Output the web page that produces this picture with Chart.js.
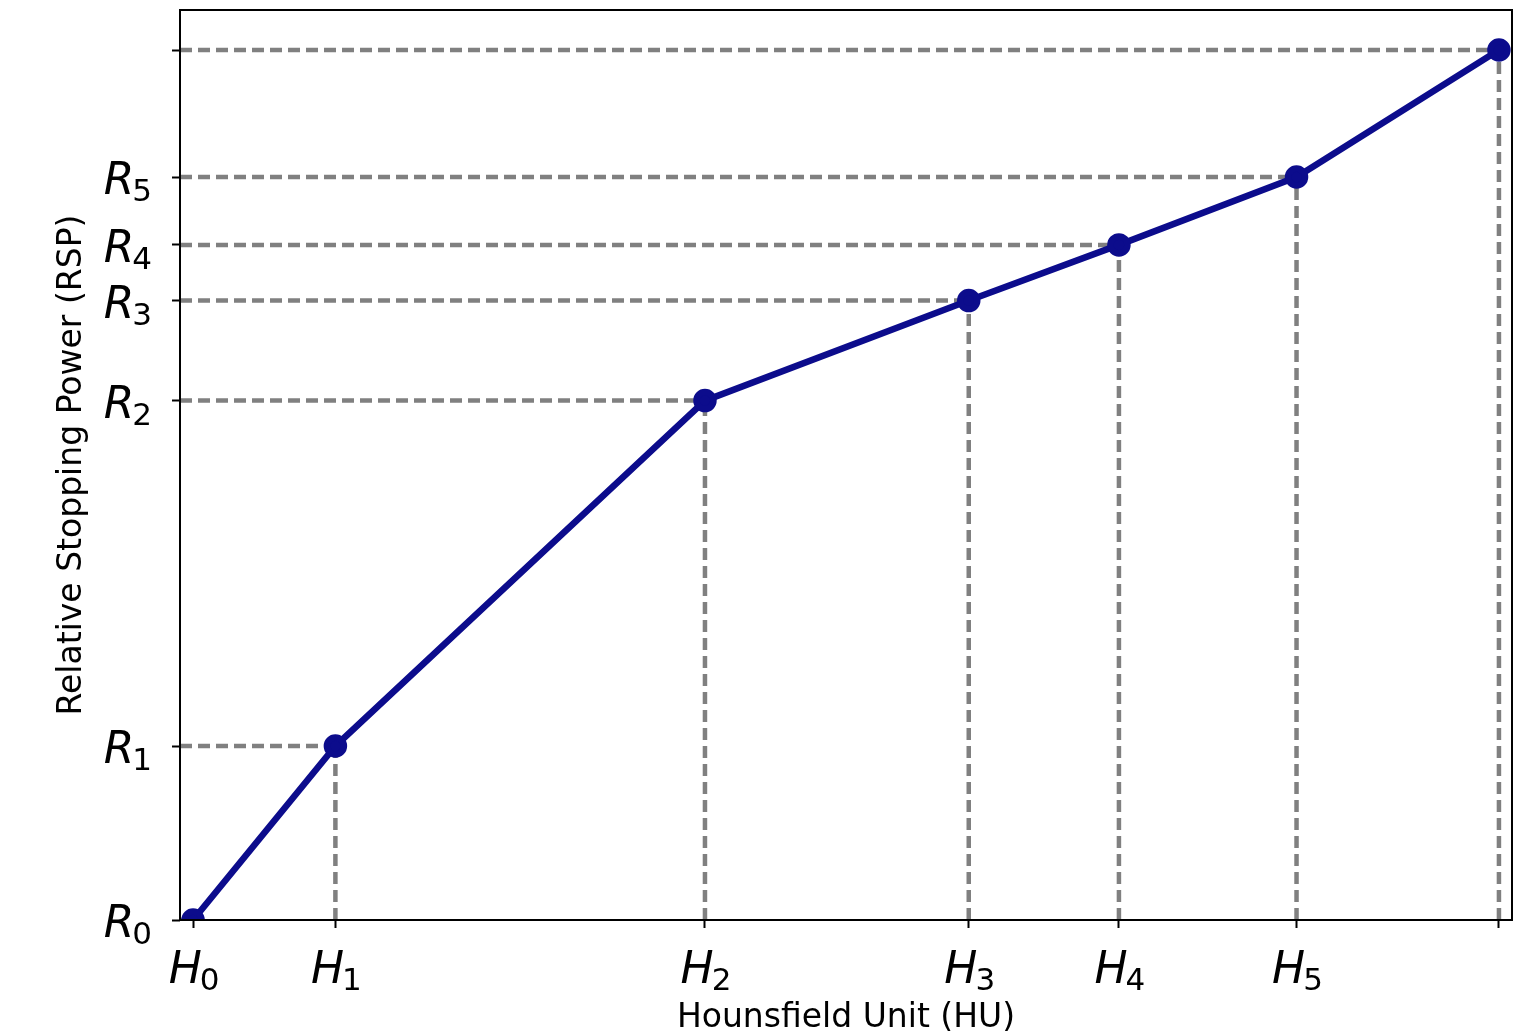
<!DOCTYPE html>
<html>
<head>
<meta charset="utf-8">
<script src="https://cdn.jsdelivr.net/npm/chart.js@4/dist/chart.umd.min.js"></script>
<style>
    html, body { margin: 0; padding: 0; background: #fff; }
    #wrap { width: 1536px; height: 1034px; }
</style>
</head>
<body>
<div id="wrap"><canvas id="myChart"></canvas></div>
<script>
// calibration nodes (HU -> RSP), arbitrary units
var hu = [0, 1.09, 3.92, 5.94, 7.09, 8.45, 10.0];
var rsp = [0, 2.0, 5.97, 7.12, 7.76, 8.54, 10.0];
var huLabels = ['0', '1', '2', '3', '4', '5', ''];
var rspLabels = ['0', '1', '2', '3', '4', '5', ''];
var xRange = [-0.1, 10.1];
var yRange = [0, 10.46];

var curve = [];
for (let i = 0; i < hu.length; i++) {
    curve.push({x: hu[i], y: rsp[i]});
}

var datasets = [{
    label: 'RSP curve',
    data: curve,
    showLine: true,
    borderColor: '#0c0c8c',
    backgroundColor: '#0c0c8c',
    borderWidth: 6.5,
    pointRadius: 8.5,
    pointHoverRadius: 8.5,
    clip: 0
}];

// dashed guides from each node to the axes
for (let i = 0; i < hu.length; i++) {
    datasets.push({
        label: 'h' + i,
        data: [{x: xRange[0], y: rsp[i]}, {x: hu[i], y: rsp[i]}],
        showLine: true,
        borderColor: '#808080',
        borderWidth: 4.5,
        borderDash: [12, 6],
        pointRadius: 0,
        clip: 0
    });
    datasets.push({
        label: 'v' + i,
        data: [{x: hu[i], y: yRange[0]}, {x: hu[i], y: rsp[i]}],
        showLine: true,
        borderColor: '#808080',
        borderWidth: 4.5,
        borderDash: [12, 6],
        pointRadius: 0,
        clip: 0
    });
}

function drawSub(ctx, letter, sub, x, y, align) {
    var big = "italic 44px 'DejaVu Sans'";
    var small = "31px 'DejaVu Sans'";
    ctx.font = big;
    var w1 = ctx.measureText(letter).width - 2;
    ctx.font = small;
    var w2 = sub ? ctx.measureText(sub).width : 0;
    var start = align == 'right' ? x - w1 - w2 : x - (w1 + w2) / 2;
    ctx.textAlign = 'left';
    ctx.textBaseline = 'alphabetic';
    ctx.fillStyle = '#000';
    ctx.font = big;
    ctx.fillText(letter, start, y);
    if (sub) {
        ctx.font = small;
        ctx.fillText(sub, start + w1, y + 7);
    }
}

const labelPlugin = {
    id: 'labelPlugin',
    afterDraw(chart) {
        var ctx = chart.ctx;
        var area = chart.chartArea;
        var xs = chart.scales.x;
        var ys = chart.scales.y;
        ctx.save();
        // frame
        ctx.strokeStyle = '#000';
        ctx.lineWidth = 2;
        ctx.strokeRect(area.left, area.top, area.right - area.left, area.bottom - area.top);

        for (let i = 0; i < rsp.length; i++) {
            if (rspLabels[i] === '') continue;
            drawSub(ctx, 'R', rspLabels[i], area.left - 28, ys.getPixelForValue(rsp[i]) + 17, 'right');
        }
        for (let i = 0; i < hu.length; i++) {
            if (huLabels[i] === '') continue;
            drawSub(ctx, 'H', huLabels[i], xs.getPixelForValue(hu[i]) + 1, area.bottom + 63, 'center');
        }

        // axis titles
        ctx.font = "33px 'DejaVu Sans'";
        ctx.textAlign = 'center';
        ctx.textBaseline = 'middle';
        ctx.fillText('Hounsfield Unit (HU)', (area.left + area.right) / 2, area.bottom + 98);
        ctx.translate(72, (area.top + area.bottom) / 2);
        ctx.rotate(-Math.PI / 2);
        ctx.fillText('Relative Stopping Power (RSP)', 0, 0);
        ctx.restore();
    }
};

const config = {
    type: 'scatter',
    data: {datasets: datasets},
    options: {
        responsive: true,
        maintainAspectRatio: false,
        animation: false,
        layout: {
            autoPadding: false,
            padding: {top: 10, right: 24, left: 0, bottom: 0}
        },
        plugins: {
            legend: {display: false},
            tooltip: {enabled: false}
        },
        scales: {
            x: {
                type: 'linear',
                min: xRange[0],
                max: xRange[1],
                afterBuildTicks: function(scale) {
                    scale.ticks = hu.map(v => ({value: v}));
                },
                afterFit: function(scale) {
                    scale.height = 114;
                    scale.paddingLeft = 0;
                    scale.paddingRight = 0;
                },
                ticks: {display: false},
                border: {display: false},
                grid: {
                    drawOnChartArea: false,
                    drawTicks: true,
                    tickLength: 8,
                    tickWidth: 2,
                    color: '#000'
                }
            },
            y: {
                type: 'linear',
                min: yRange[0],
                max: yRange[1],
                afterBuildTicks: function(scale) {
                    scale.ticks = rsp.map(v => ({value: v}));
                },
                afterFit: function(scale) {
                    scale.width = 180;
                    scale.paddingTop = 0;
                    scale.paddingBottom = 0;
                },
                ticks: {display: false},
                border: {display: false},
                grid: {
                    drawOnChartArea: false,
                    drawTicks: true,
                    tickLength: 8,
                    tickWidth: 2,
                    color: '#000'
                }
            }
        }
    },
    plugins: [labelPlugin]
};

var rspChart = new Chart(document.getElementById('myChart'), config);
</script>
</body>
</html>
